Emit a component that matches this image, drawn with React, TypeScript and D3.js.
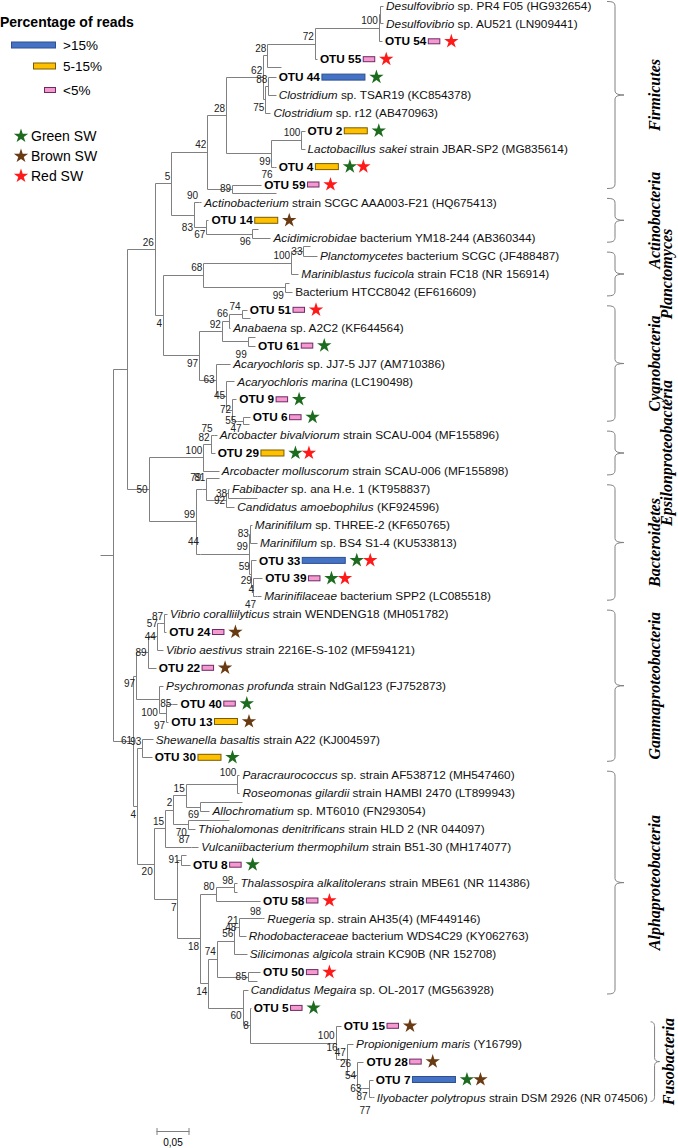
import React, { useMemo } from "react";
import * as d3 from "d3";

const W = 678;
const H = 1148;

// ---------- Tree data (distances in substitutions per site, cumulative from root) ----------
// Internal nodes: [id, parent, distance, bootstrap, label placement a/A above, m middle, b/B below]
const NODES: [string, string, number, string, string][] = [
  ["R", "", 0.0203, "", ""],
  ["R2", "R", 0.0407, "", ""],
  ["n61", "R", 0.0501, "61", "m"],
  ["n26", "R2", 0.083, "26", "a"],
  ["n50", "R2", 0.0736, "50", "m"],
  ["n5", "n26", 0.108, "5", "a"],
  ["n4", "n26", 0.0955, "4", "b"],
  ["n42", "n5", 0.1628, "42", "a"],
  ["n83", "n5", 0.1424, "83", "B"],
  ["n28b", "n42", 0.191, "28", "a"],
  ["n89", "n42", 0.2003, "89", "m"],
  ["n62", "n28b", 0.2473, "62", "a"],
  ["n99", "n28b", 0.2598, "99", "b"],
  ["n28", "n62", 0.2536, "28", "a"],
  ["n75", "n62", 0.2504, "75", "b"],
  ["n72", "n28", 0.3256, "72", "a"],
  ["nA", "n72", 0.4226, "100", "a"],
  ["nB", "nA", 0.4242, "", ""],
  ["n88", "n75", 0.2551, "88", "a"],
  ["n100f", "n99", 0.3052, "100", "a"],
  ["n76", "n99", 0.263, "76", "b"],
  ["n90", "n83", 0.1503, "90", "a"],
  ["n67", "n83", 0.1612, "67", "b"],
  ["n96", "n67", 0.2301, "96", "b"],
  ["n68", "n4", 0.1565, "68", "a"],
  ["n97", "n4", 0.1503, "97", "b"],
  ["n100p", "n68", 0.2896, "100", "a"],
  ["n33", "n100p", 0.3083, "33", "m"],
  ["n99b", "n68", 0.2802, "99", "b"],
  ["n92", "n97", 0.1847, "92", "a"],
  ["n66", "n92", 0.1956, "66", "a"],
  ["n74", "n66", 0.2144, "74", "a"],
  ["n99c", "n92", 0.2238, "99", "B"],
  ["n63", "n97", 0.1753, "63", "m"],
  ["n45", "n63", 0.191, "45", "m"],
  ["n72c", "n45", 0.2003, "72", "m"],
  ["n55", "n72c", 0.2082, "55", "m"],
  ["n47c", "n55", 0.216, "47", "b"],
  ["n100e", "n50", 0.1565, "100", "a"],
  ["n82", "n100e", 0.1675, "82", "a"],
  ["n75b", "n82", 0.1722, "75", "a"],
  ["n99f", "n50", 0.1456, "99", "a"],
  ["n79", "n99f", 0.155, "79", "A"],
  ["n81", "n79", 0.1612, "81", "A"],
  ["n92b", "n81", 0.191, "92", "m"],
  ["n38", "n92b", 0.1941, "38", "m"],
  ["n44", "n99f", 0.1518, "44", "A"],
  ["n99m", "n44", 0.2254, "99", "a"],
  ["n83m", "n99m", 0.227, "83", "m"],
  ["n59m", "n99m", 0.2285, "59", "a"],
  ["n29m", "n59m", 0.2316, "29", "a"],
  ["n4m", "n29m", 0.2348, "4", "a"],
  ["n47m", "n4m", 0.2379, "47", "b"],
  ["n97g", "n61", 0.0548, "97", "b"],
  ["n89g", "n97g", 0.072, "89", "m"],
  ["n44g", "n89g", 0.0861, "44", "m"],
  ["n57g", "n44g", 0.0892, "57", "m"],
  ["n87g", "n57g", 0.097, "87", "a"],
  ["n100g", "n97g", 0.0892, "100", "B"],
  ["n97b", "n100g", 0.1002, "97", "B"],
  ["n85g", "n97b", 0.1096, "85", "m"],
  ["n4b", "n61", 0.0563, "4", "b"],
  ["n93", "n4b", 0.0642, "93", "a"],
  ["n20", "n4b", 0.0814, "20", "b"],
  ["n15b", "n20", 0.0986, "15", "a"],
  ["n2", "n15b", 0.1111, "2", "a"],
  ["n15a", "n2", 0.1299, "15", "a"],
  ["n100a", "n15a", 0.2082, "100", "A"],
  ["n69", "n15a", 0.1518, "69", "b"],
  ["n70", "n2", 0.133, "70", "b"],
  ["n87a", "n15b", 0.1377, "87", "a"],
  ["n7", "n20", 0.1174, "7", "b"],
  ["n91", "n7", 0.1221, "91", "m"],
  ["n18", "n7", 0.1518, "18", "b"],
  ["n80", "n18", 0.1753, "80", "a"],
  ["n98t", "n80", 0.2035, "98", "a"],
  ["n14", "n18", 0.1643, "14", "b"],
  ["n74a", "n14", 0.1769, "74", "a"],
  ["n56", "n74a", 0.2035, "56", "a"],
  ["n48", "n56", 0.2082, "48", "m"],
  ["n21", "n48", 0.2113, "21", "a"],
  ["n98r", "n21", 0.2457, "98", "a"],
  ["n85a", "n74a", 0.2238, "85", "m"],
  ["n60", "n14", 0.216, "60", "b"],
  ["n8", "n60", 0.227, "8", "m"],
  ["nF100", "n8", 0.3569, "100", "a"],
  ["n16f", "nF100", 0.3616, "16", "A"],
  ["n47f", "n16f", 0.3741, "47", "a"],
  ["n26f", "n47f", 0.3819, "26", "A"],
  ["n54f", "n26f", 0.3897, "54", "m"],
  ["n63f", "n54f", 0.3976, "63", "m"],
  ["n87f", "n63f", 0.407, "87", "b"],
  ["n77", "n87f", 0.4116, "77", "B"],
];

// Terminal taxa in display order: [label ("italic part|rest"), parent, distance]
const LEAVES: [string, string, number][] = [
  ["Desulfovibrio|sp. PR4 F05 (HG932654)", "nB", 0.4289],
  ["Desulfovibrio|sp. AU521 (LN909441)", "nB", 0.4289],
  ["OTU 54", "nA", 0.4273],
  ["OTU 55", "n72", 0.3287],
  ["OTU 44", "n88", 0.2661],
  ["Clostridium|sp. TSAR19 (KC854378)", "n88", 0.2661],
  ["Clostridium|sp. r12 (AB470963)", "n75", 0.2583],
  ["OTU 2", "n100f", 0.3099],
  ["Lactobacillus sakei|strain JBAR-SP2 (MG835614)", "n100f", 0.3099],
  ["OTU 4", "n76", 0.2661],
  ["OTU 59", "n89", 0.2442],
  ["Actinobacterium|strain SCGC AAA003-F21 (HQ675413)", "n90", 0.1534],
  ["OTU 14", "n67", 0.1643],
  ["Acidimicrobidae|bacterium YM18-244 (AB360344)", "n96", 0.2583],
  ["Planctomycetes|bacterium SCGC (JF488487)", "n33", 0.3287],
  ["Mariniblastus fucicola|strain FC18 (NR 156914)", "n100p", 0.3005],
  ["|Bacterium HTCC8042 (EF616609)", "n99b", 0.2911],
  ["OTU 51", "n74", 0.2223],
  ["Anabaena|sp. A2C2 (KF644564)", "n66", 0.1972],
  ["OTU 61", "n99c", 0.2348],
  ["Acaryochloris|sp. JJ7-5 JJ7 (AM710386)", "n63", 0.1972],
  ["Acaryochloris marina|(LC190498)", "n45", 0.2035],
  ["OTU 9", "n72c", 0.2066],
  ["OTU 6", "n47c", 0.227],
  ["Arcobacter bivalviorum|strain SCAU-004 (MF155896)", "n75b", 0.1769],
  ["OTU 29", "n82", 0.1737],
  ["Arcobacter molluscorum|strain SCAU-006 (MF155898)", "n100e", 0.18],
  ["Fabibacter|sp. ana H.e. 1 (KT958837)", "n38", 0.1956],
  ["Candidatus amoebophilus|(KF924596)", "n92b", 0.2035],
  ["Marinifilum|sp. THREE-2 (KF650765)", "n83m", 0.2301],
  ["Marinifilum|sp. BS4 S1-4 (KU533813)", "n83m", 0.2379],
  ["OTU 33", "n59m", 0.2363],
  ["OTU 39", "n29m", 0.2457],
  ["Marinifilaceae|bacterium SPP2 (LC085518)", "n47m", 0.2442],
  ["Vibrio coralliilyticus|strain WENDENG18 (MH051782)", "n87g", 0.1017],
  ["OTU 24", "n87g", 0.1002],
  ["Vibrio aestivus|strain 2216E-S-102 (MF594121)", "n44g", 0.0955],
  ["OTU 22", "n89g", 0.0845],
  ["Psychromonas profunda|strain NdGal123 (FJ752873)", "n100g", 0.0955],
  ["OTU 40", "n85g", 0.1174],
  ["OTU 13", "n97b", 0.1033],
  ["Shewanella basaltis|strain A22 (KJ004597)", "n93", 0.0798],
  ["OTU 30", "n93", 0.0783],
  ["Paracraurococcus|sp. strain AF538712 (MH547460)", "n100a", 0.2113],
  ["Roseomonas gilardii|strain HAMBI 2470 (LT899943)", "n100a", 0.2113],
  ["Allochromatium|sp. MT6010 (FN293054)", "n69", 0.1659],
  ["Thiohalomonas denitrificans|strain HLD 2 (NR 044097)", "n70", 0.144],
  ["Vulcaniibacterium thermophilum|strain B51-30 (MH174077)", "n87a", 0.1487],
  ["OTU 8", "n91", 0.1362],
  ["Thalassospira alkalitolerans|strain MBE61 (NR 114386)", "n98t", 0.2082],
  ["OTU 58", "n80", 0.2426],
  ["Ruegeria|sp. strain AH35(4) (MF449146)", "n98r", 0.2489],
  ["Rhodobacteraceae|bacterium WDS4C29 (KY062763)", "n21", 0.2207],
  ["Silicimonas algicola|strain KC90B (NR 152708)", "n56", 0.2223],
  ["OTU 50", "n85a", 0.2426],
  ["Candidatus Megaira|sp. OL-2017 (MG563928)", "n60", 0.2238],
  ["OTU 5", "n8", 0.2285],
  ["OTU 15", "nF100", 0.3647],
  ["Propionigenium maris|(Y16799)", "n47f", 0.3835],
  ["OTU 28", "n54f", 0.3991],
  ["OTU 7", "n87f", 0.4132],
  ["Ilyobacter polytropus|strain DSM 2926 (NR 074506)", "n77", 0.4148],
];

// Unlabelled short tips: [parent, distance, row]
const STUBS: [string, number, number][] = [
  ["n28", 0.2739, 3.44],
  ["n89", 0.2661, 10.45],
  ["n96", 0.2395, 12.49],
  ["n33", 0.3177, 13.44],
  ["n99b", 0.2864, 15.5],
  ["n74", 0.227, 17.46],
  ["n99c", 0.2348, 18.52],
  ["n47c", 0.2254, 23.38],
  ["n81", 0.18, 26.4],
  ["n38", 0.2379, 27.51],
  ["n69", 0.2144, 44.5],
  ["n70", 0.1956, 45.5],
  ["n91", 0.1299, 47.46],
  ["n98t", 0.2082, 49.5],
  ["n85a", 0.2379, 54.5],
];

// OTU annotations
const OTU_NAMES = ["OTU 54", "OTU 55", "OTU 44", "OTU 2", "OTU 4", "OTU 59", "OTU 14", "OTU 51", "OTU 61", "OTU 9", "OTU 6", "OTU 29", "OTU 33", "OTU 39", "OTU 24", "OTU 22", "OTU 40", "OTU 13", "OTU 30", "OTU 8", "OTU 58", "OTU 50", "OTU 5", "OTU 15", "OTU 28", "OTU 7"];
const OTU_LEVEL = [2, 2, 0, 1, 1, 2, 1, 2, 2, 2, 2, 1, 0, 2, 2, 2, 2, 1, 1, 2, 2, 2, 2, 2, 2, 0];
const OTU_SOURCES = ["R", "R", "G", "G", "GR", "R", "B", "R", "G", "G", "G", "GR", "GR", "GR", "B", "B", "G", "B", "G", "G", "R", "R", "G", "B", "B", "GB"];

const LEVELS = [">15%", "5-15%", "<5%"];
const LEVEL_FILL = ["#4472C4", "#FFC000", "#F49AD0"];
const LEVEL_STROKE = ["#2F4F8F", "#7A5C00", "#6E2B63"];

const SOURCES = ["Green SW", "Brown SW", "Red SW"];
const SOURCE_KEYS = ["G", "B", "R"];
const SOURCE_COLORS = ["#1C6B1E", "#6A3A12", "#FF1A1A"];

const CLADES = ["Firmicutes", "Actinobacteria", "Planctomyces", "Cyanobacteria", "Epsilonproteobacteria", "Bacteroidetes", "Gammaproteobacteria", "Alphaproteobacteria", "Fusobacteria"];
const CLADE_FIRST = [0, 11, 14, 17, 24, 27, 34, 43, 57];
const CLADE_LAST = [10, 13, 16, 23, 26, 33, 42, 55, 61];
const CLADE_COL = [0, 0, 1, 0, 1, 0, 0, 0, 2];

const SCALE_BAR = 0.05;
const SCALE_LABEL = "0,05";

// ---------- styling ----------
const SANS = "'Liberation Sans', Arial, Helvetica, sans-serif";
const SERIF = "'Liberation Serif', 'Times New Roman', serif";
const LINE = "#808080";
const LEAF_FS = 11.8;
const OTU_FS = 11.8;
const BOOT_FS = 10;
const CLADE_FS = 16;
const BAR_W = [43, 23, 11.5];
const BAR_H = [6, 6, 5];
const LABEL_SHIFT: Record<string, number> = { a: -7, A: -12, m: 0, b: 8, B: 13 };
const COL_X = [660, 672, 674];

type Kid = { dist: number; y?: number; id?: string };
type TNode = { id: string; parent: string; dist: number; boot: string; pos: string; kids: Kid[]; y?: number };

export default function App() {
  const L = useMemo(() => {
    const x = d3.scaleLinear().domain([0, SCALE_BAR]).range([100, 133]);
    const y = d3.scaleLinear().domain([0, LEAVES.length - 1]).range([5.5, 1097.4]);

    const map = new Map<string, TNode>();
    NODES.forEach(([id, parent, dist, boot, pos]) => map.set(id, { id, parent, dist, boot, pos, kids: [] }));
    NODES.forEach(([id, parent, dist]) => { if (parent) map.get(parent)!.kids.push({ dist, id }); });
    LEAVES.forEach(([, parent, dist], i) => map.get(parent)!.kids.push({ dist, y: y(i) }));
    STUBS.forEach(([parent, dist, row]) => map.get(parent)!.kids.push({ dist, y: y(row) }));

    const nodeY = (id: string): number => {
      const n = map.get(id)!;
      if (n.y === undefined) {
        const ys = n.kids.map((k) => (k.id ? nodeY(k.id) : (k.y as number)));
        n.y = ((d3.min(ys) as number) + (d3.max(ys) as number)) / 2;
      }
      return n.y;
    };

    const c = (v: number) => Math.round(v) + 0.5;
    const p = d3.path();
    const rootId = NODES.find((nd) => !nd[1])![0];
    const root = map.get(rootId)!;
    p.moveTo(c(x(0)), c(nodeY(rootId)));
    p.lineTo(c(x(root.dist)), c(nodeY(rootId)));
    map.forEach((n) => {
      const nx = c(x(n.dist));
      const ys = n.kids.map((k) => (k.id ? nodeY(k.id) : (k.y as number)));
      const y0 = d3.min(ys) as number;
      const y1 = d3.max(ys) as number;
      if (y1 - y0 > 0.5) {
        p.moveTo(nx, c(y0));
        p.lineTo(nx, c(y1));
      }
      n.kids.forEach((k, i) => {
        const ky = c(ys[i]);
        p.moveTo(nx, ky);
        p.lineTo(Math.max(nx, c(x(k.dist))), ky);
      });
    });

    const boots = [...map.values()]
      .filter((n) => n.boot)
      .map((n) => ({ t: n.boot, x: x(n.dist) - 1, y: nodeY(n.id) + LABEL_SHIFT[n.pos] }));

    const ctx = document.createElement("canvas").getContext("2d")!;
    const tw = (t: string, font: string) => {
      ctx.font = font;
      return ctx.measureText(t).width;
    };

    const star = d3.symbol(d3.symbolStar, 64)()!;
    const leafEnd: number[] = [];
    const leaves = LEAVES.map(([name, , dist], i) => {
      const tx = x(dist) + 3;
      const ty = y(i);
      const oi = OTU_NAMES.indexOf(name);
      if (oi >= 0) {
        const w = tw(name, `bold ${OTU_FS}px ${SANS}`);
        const lv = OTU_LEVEL[oi];
        const bx = tx + w + 2;
        const bw = BAR_W[lv];
        const stars = OTU_SOURCES[oi].split("").map((s, j) => ({
          x: bx + bw + 11.5 + j * 13.5,
          color: SOURCE_COLORS[SOURCE_KEYS.indexOf(s)],
        }));
        leafEnd[i] = bx + bw + 11.5 + (stars.length - 1) * 13.5 + 7;
        return { kind: "otu", name, tx, ty, bx, bw, lv, stars };
      }
      const [it, rest] = name.split("|");
      const w = (it ? tw(it, `italic ${LEAF_FS}px ${SANS}`) : 0) + tw((it ? " " : "") + rest, `${LEAF_FS}px ${SANS}`);
      leafEnd[i] = tx + w;
      return { kind: "taxon", it, rest, tx, ty };
    });

    const clades = CLADES.map((name, i) => {
      let maxEnd = 0;
      for (let r = CLADE_FIRST[i]; r <= CLADE_LAST[i]; r++) maxEnd = Math.max(maxEnd, leafEnd[r]);
      const bx = Math.max(607, maxEnd + 3);
      const narrow = bx > 640;
      const yt = y(CLADE_FIRST[i]) - 4;
      const yb = y(CLADE_LAST[i]) + 4;
      const ym = (y(CLADE_FIRST[i]) + y(CLADE_LAST[i])) / 2;
      const x1 = bx + (narrow ? 4 : 8);
      const xt = x1 + (narrow ? 5 : 9);
      const d = `M${bx},${yt} C${x1 - 2},${yt} ${x1},${yt + 1} ${x1},${yt + 5} L${x1},${ym - 4} Q${x1},${ym} ${xt},${ym} Q${x1},${ym} ${x1},${ym + 4} L${x1},${yb - 5} C${x1},${yb - 1} ${x1 - 2},${yb} ${bx},${yb}`;
      return { name, d, lx: COL_X[CLADE_COL[i]], ym };
    });

    const sb0 = 156.5;
    const sbLen = x(SCALE_BAR) - x(0);
    return { tree: p.toString(), boots, leaves, clades, star, sb0, sbLen };
  }, []);

  return (
    <svg
      width={W}
      height={H}
      viewBox={`0 0 ${W} ${H}`}
      style={{ position: "absolute", left: 0, top: 0, background: "#fff" }}
      fontFamily={SANS}
    >
      <rect width={W} height={H} fill="#fff" />
      {/* Legend */}
      <text x={0} y={27} fontSize={14} fontWeight="bold" fill="#000">Percentage of reads</text>
      {LEVELS.map((lv, i) => {
        const cy = [45, 66, 90][i];
        const w = [44, 22, 11][i];
        return (
          <g key={lv}>
            <rect x={55.5 - w} y={cy - BAR_H[i] / 2} width={w} height={BAR_H[i]} fill={LEVEL_FILL[i]} stroke={LEVEL_STROKE[i]} strokeWidth={1} />
            <text x={63} y={cy} dy="0.35em" fontSize={13.5} fill="#000">{lv}</text>
          </g>
        );
      })}
      {SOURCES.map((s, i) => {
        const cy = 136 + i * 20;
        return (
          <g key={s}>
            <path d={L.star} transform={`translate(21,${cy})`} fill={SOURCE_COLORS[i]} />
            <text x={31} y={cy} dy="0.35em" fontSize={14} fill="#000">{s}</text>
          </g>
        );
      })}

      {/* Tree */}
      <path d={L.tree} fill="none" stroke={LINE} strokeWidth={1} />

      {/* Bootstrap values */}
      {L.boots.map((b, i) => (
        <text key={i} x={b.x} y={b.y} dy="0.35em" fontSize={BOOT_FS} textAnchor="end" fill="#222">{b.t}</text>
      ))}

      {/* Leaves */}
      {L.leaves.map((lf: any, i) =>
        lf.kind === "otu" ? (
          <g key={i}>
            <text x={lf.tx} y={lf.ty} dy="0.35em" fontSize={OTU_FS} fontWeight="bold" fill="#000">{lf.name}</text>
            <rect x={lf.bx} y={lf.ty - BAR_H[lf.lv] / 2} width={lf.bw} height={BAR_H[lf.lv]} fill={LEVEL_FILL[lf.lv]} stroke={LEVEL_STROKE[lf.lv]} strokeWidth={1} />
            {lf.stars.map((s: any, j: number) => (
              <path key={j} d={L.star} transform={`translate(${s.x},${lf.ty})`} fill={s.color} />
            ))}
          </g>
        ) : (
          <text key={i} x={lf.tx} y={lf.ty} dy="0.35em" fontSize={LEAF_FS} fill="#111">
            {lf.it ? <tspan fontStyle="italic">{lf.it}</tspan> : null}
            <tspan>{(lf.it ? " " : "") + lf.rest}</tspan>
          </text>
        )
      )}

      {/* Clade brackets */}
      {L.clades.map((cl) => (
        <g key={cl.name}>
          <path d={cl.d} fill="none" stroke={LINE} strokeWidth={1} />
          <text
            transform={`translate(${cl.lx},${cl.ym}) rotate(-90)`}
            textAnchor="middle"
            fontFamily={SERIF}
            fontStyle="italic"
            fontWeight="bold"
            fontSize={CLADE_FS}
            fill="#000"
          >
            {cl.name}
          </text>
        </g>
      ))}

      {/* Scale bar */}
      <path
        d={`M${L.sb0},1131.5 H${L.sb0 + L.sbLen} M${L.sb0 + 0.5},1128 V1135 M${L.sb0 + L.sbLen - 0.5},1128 V1135`}
        stroke={LINE}
        strokeWidth={1}
        fill="none"
      />
      <text x={L.sb0 + L.sbLen / 2} y={1142} dy="0.35em" fontSize={10} textAnchor="middle" fill="#000">{SCALE_LABEL}</text>
    </svg>
  );
}
